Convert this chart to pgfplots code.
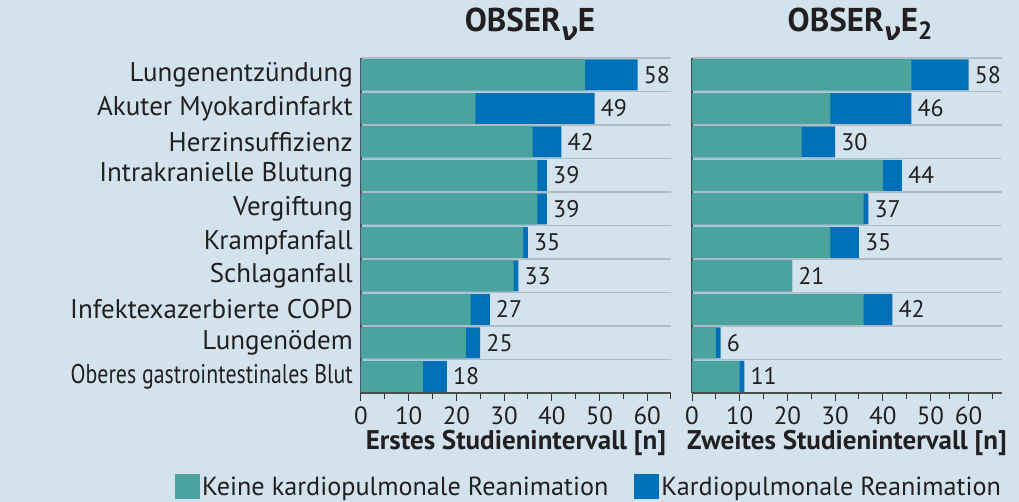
\documentclass[border=0pt]{standalone}
\usepackage{pgfplots}
\pgfplotsset{compat=1.18}
\usepackage{fontspec}
\setmainfont{PT Sans}
\newfontfamily\grk{DejaVu Sans}
\newfontfamily\ptcond[FakeStretch=0.81]{PT Sans}
\definecolor{bg}{RGB}{210,227,238}
\definecolor{cteal}{RGB}{74,163,159}
\definecolor{cblue}{RGB}{0,112,184}
\definecolor{sep}{RGB}{178,186,194}
\definecolor{txt}{RGB}{35,31,32}
\newcommand{\fs}{\fontsize{27}{29}\selectfont}
\newcommand{\fl}{\fontsize{26.2}{28}\selectfont}
\newcommand{\ft}{\fontsize{25}{27}\selectfont}
\newcommand{\fn}{\fontsize{24}{26}\selectfont}
\newcommand{\nusub}{\raisebox{-0.28em}{\grk\bfseries\itshape\fontsize{25}{25}\selectfont ν}}
\newcommand{\obl}{{\ptcond Oberes gastrointestinales Blut}}
\pgfplotsset{
 panel/.style={
  xbar, bar shift=0pt,
  scale only axis, width=310pt, height=335pt,
  xmin=0, xmax=65, ymin=-0.5, ymax=9.5, y dir=reverse,
  ytick={0,...,9},
  minor ytick={-0.5,0.5,...,8.5},
  yminorgrids, minor grid style={sep, line width=1.5pt},
  ytick style={draw=none}, minor y tick style={draw=none},
  axis x line*=bottom, axis y line*=left,
  axis line style={line width=1.3pt, color=black!70},
  tick align=outside, major tick length=8pt, minor tick length=6pt,
  x tick style={line width=1pt, color=black!80},
  minor x tick style={line width=1pt, color=black!80},
  /pgf/number format/assume math mode=true,
  ticklabel style={font=\ft, text=txt},
  yticklabel style={inner sep=0pt, font=\fs},
  xticklabel style={yshift=-2pt},
  xlabel style={font=\fontsize{27}{29}\selectfont\bfseries, text=txt, yshift=1pt},
  title style={font=\fontsize{33}{35}\selectfont\bfseries, text=txt, yshift=8pt},
  bar width=31pt,
  nodes near coords style={font=\fn, text=txt, anchor=west, inner sep=0pt, xshift=6pt},
  legend image code/.code={\fill[##1] (0pt,-12pt) rectangle (25pt,13pt);},
 }
}
\begin{document}
\begin{tikzpicture}
\path[use as bounding box, fill=bg] (-361pt,-109pt) rectangle (658pt,393pt);
\begin{axis}[panel, at={(0,0)},
  xtick={0,10,...,60}, minor xtick={5,15,...,65},
  yticklabels={Lungenentzündung, Akuter Myokardinfarkt, Herzinsuffizienz, Intrakranielle Blutung, Vergiftung, Krampfanfall, Schlaganfall, Infektexazerbierte COPD, Lungenödem, \obl},
  title={OBSER\nusub E},
  title style={xshift=14pt},
  xlabel={Erstes Studienintervall [n]},
  legend style={at={(-0.61,-0.28)}, anchor=west, draw=none, fill=none, legend columns=2, font=\fl, text=txt,
    /tikz/every even column/.style={column sep=24pt}},
]
\addplot[forget plot, fill=cblue, draw=none, nodes near coords, point meta=explicit symbolic] coordinates {(58,0)[58] (49,1)[49] (42,2)[42] (39,3)[39] (39,4)[39] (35,5)[35] (33,6)[33] (27,7)[27] (25,8)[25] (18,9)[18]};
\addplot[fill=cteal, draw=none] coordinates {(47,0) (24,1) (36,2) (37,3) (37,4) (34,5) (32,6) (23,7) (22,8) (13,9)};
\addlegendentry{Keine kardiopulmonale Reanimation}
\addlegendimage{fill=cblue, draw=none}
\addlegendentry{Kardiopulmonale Reanimation}
\end{axis}
\begin{axis}[panel, at={(331pt,0)},
  xtick={0,10,20,30,40,50,58}, xticklabels={0,10,20,30,40,50,60},
  minor xtick={5,15,25,35,45,54,63},
  yticklabels={},
  title={OBSER\nusub E\raisebox{-0.25em}{\fontsize{25}{25}\selectfont 2}},
  title style={xshift=13pt},
  xlabel={Zweites Studienintervall [n]},
]
\addplot[fill=cblue, draw=none, nodes near coords, point meta=explicit symbolic] coordinates {(58,0)[58] (46,1)[46] (30,2)[30] (44,3)[44] (37,4)[37] (35,5)[35] (21,6)[21] (42,7)[42] (6,8)[6] (11,9)[11]};
\addplot[fill=cteal, draw=none] coordinates {(46,0) (29,1) (23,2) (40,3) (36,4) (29,5) (21,6) (36,7) (5,8) (10,9)};
\end{axis}
\end{tikzpicture}
\end{document}
